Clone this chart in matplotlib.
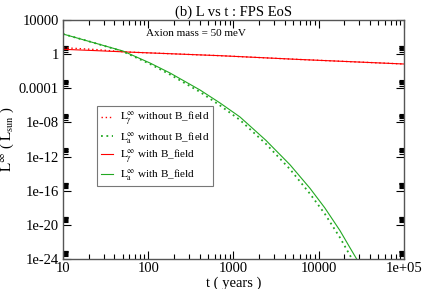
import matplotlib
matplotlib.use("Agg")
import matplotlib.pyplot as plt
import numpy as np
from matplotlib.ticker import FixedLocator, FixedFormatter

# ---- data ----
t_red = [10, 23.7, 56, 695, 6030, 1e5]
L_gamma_noB = [5.7, 3.5, 1.78, 0.66, 0.236, 0.070]
L_gamma_B = [3.7, 2.6, 1.78, 0.66, 0.236, 0.070]

t_green = [10, 22.5, 50.6, 105, 180, 405, 695, 1190, 2400, 4600, 7900,
           11800, 17700, 23100, 28100, 34900]
L_a_B = [229, 23, 2.3, 0.091, 6.2e-3, 6.3e-5, 1.9e-6, 4.4e-8, 8.0e-11, 1.1e-13,
         1.9e-16, 9.5e-19, 2.2e-21, 2.3e-23, 8.5e-25, 1.0e-26]
L_a_noB = [229, 23, 2.04, 0.070, 4.1e-3, 3.7e-5, 9.7e-7, 1.95e-8, 3.1e-11, 3.3e-14,
           4.3e-17, 1.9e-19, 3.3e-22, 3.0e-24, 1.0e-25, 1.0e-27]

x_ticks = [10, 100, 1000, 10000, 1e5]
x_ticklabels = ["10", "100", "1000", "10000", "1e+05"]
y_ticks = [1e-24, 1e-20, 1e-16, 1e-12, 1e-8, 1e-4, 1, 1e4]
y_ticklabels = ["1e-24", "1e-20", "1e-16", "1e-12", "1e-08", "0.0001", "1", "10000"]

plt.rcParams['font.family'] = ['Liberation Serif', 'DejaVu Serif']
plt.rcParams['mathtext.fontset'] = 'stix'

W, H = 422, 289
fig = plt.figure(figsize=(W / 100, H / 100), dpi=100)
ax = fig.add_axes([63 / W, 1 - 259 / H, (404 - 63) / W, (259 - 20) / H])

red = '#ff0000'
green = '#22a822'
ax.plot(t_red, L_gamma_noB, color=red, lw=1.0, ls=(0, (1, 2)),
        label=r'$\mathrm{L}_{\gamma}^{\infty}$ without B_field')
ax.plot(t_green, L_a_noB, color=green, lw=1.3, ls=(0, (1, 2)),
        label=r'$\mathrm{L}_{\mathrm{a}}^{\infty}$ without B_field')
ax.plot(t_red, L_gamma_B, color=red, lw=0.8,
        label=r'$\mathrm{L}_{\gamma}^{\infty}$ with B_field')
ax.plot(t_green, L_a_B, color=green, lw=0.8,
        label=r'$\mathrm{L}_{\mathrm{a}}^{\infty}$ with B_field')

ax.set_xscale('log')
ax.set_yscale('log')
ax.set_xlim(10, 1e5)
ax.set_ylim(1e-24, 1e4)

ax.xaxis.set_major_locator(FixedLocator(x_ticks))
ax.xaxis.set_major_formatter(FixedFormatter(x_ticklabels))
xminor = [m * s for m in x_ticks[:-1] for s in range(2, 10)]
ax.xaxis.set_minor_locator(FixedLocator(xminor))
ax.xaxis.set_minor_formatter(FixedFormatter([""] * len(xminor)))

ax.yaxis.set_major_locator(FixedLocator(y_ticks))
ax.yaxis.set_major_formatter(FixedFormatter(y_ticklabels))
yminor = [m * s for m in y_ticks[:-1] for s in range(2, 10)]
ax.yaxis.set_minor_locator(FixedLocator(yminor))
ax.yaxis.set_minor_formatter(FixedFormatter([""] * len(yminor)))

ax.tick_params(which='both', direction='in', top=True, right=True, labelsize=10.5, width=0.8)
ax.tick_params(which='major', length=6, pad=3)
ax.tick_params(which='minor', length=3.5)
ax.tick_params(axis='x', which='major', pad=2)

for s in ax.spines.values():
    s.set_linewidth(1.0)
    s.set_color('#555555')

ax.set_title('(b) L vs t : FPS EoS', fontsize=10.5, pad=3)
ax.set_xlabel('t ( years )', fontsize=10.5, labelpad=1)
ax.set_ylabel(r'$\mathrm{L}^{\infty}$ ( $\mathrm{L}_{\mathrm{sun}}$ )', fontsize=10.5, labelpad=2)

ax.text(0.39, 0.942, 'Axion mass = 50 meV', transform=ax.transAxes, fontsize=8,
        ha='center', va='center')

leg = ax.legend(loc='upper left', bbox_to_anchor=((97 - 63) / 341, (259 - 106) / 239),
                fontsize=8, frameon=True, fancybox=False, handlelength=1.1,
                handletextpad=0.6, labelspacing=0.22, borderpad=0.35, borderaxespad=0)
leg.get_frame().set_edgecolor('#555555')
leg.get_frame().set_linewidth(0.8)

fig.savefig('out.png', dpi=100)
